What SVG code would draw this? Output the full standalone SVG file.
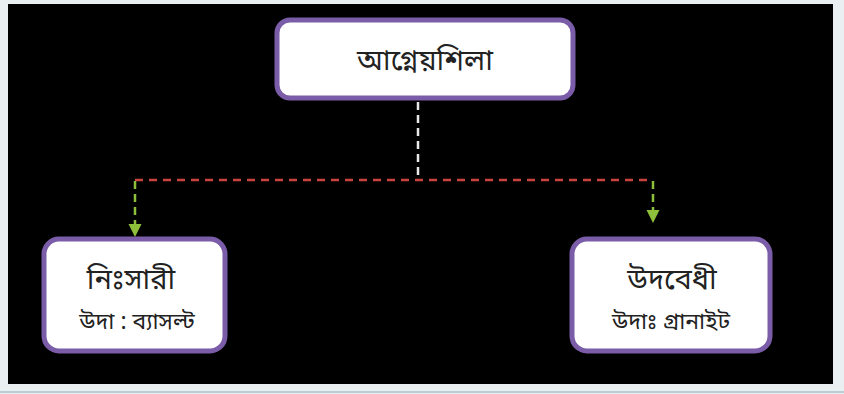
<svg xmlns="http://www.w3.org/2000/svg" width="844" height="394" viewBox="0 0 844 394">
<style>
.box{fill:#ffffff;stroke:#7b5ca8;stroke-width:5}
.t{font-family:"Noto Sans Bengali","Lohit Bengali","Noto Sans","DejaVu Sans",sans-serif;fill:#222;text-anchor:middle}
.big{font-size:29px}
.small{font-size:23px}
</style>
<rect x="0" y="0" width="844" height="394" fill="#eaf0f2"/>
<rect x="8" y="4" width="825" height="380" fill="#000"/>
<line x1="0" y1="392" x2="844" y2="392" stroke="#b9cdd2" stroke-width="2"/>
<g id="connectors">
<line x1="418" y1="102" x2="418" y2="180" stroke="#e8e8e8" stroke-width="2.5" stroke-dasharray="8,5"/>
<line x1="135" y1="180" x2="653" y2="180" stroke="#c9443f" stroke-width="2.5" stroke-dasharray="8,6"/>
<line x1="135" y1="181" x2="135" y2="225" stroke="#8dbf3a" stroke-width="2.5" stroke-dasharray="8,5"/>
<path d="M128.5,224 L141.5,224 L135,237 Z" fill="#8dbf3a"/>
<line x1="653" y1="181" x2="653" y2="211" stroke="#8dbf3a" stroke-width="2.5" stroke-dasharray="8,5"/>
<path d="M646.5,210 L659.5,210 L653,223 Z" fill="#8dbf3a"/>
</g>
<g id="node-root">
<rect class="box" x="277" y="20" width="296" height="78" rx="13"/>
<text class="t big" x="425" y="70">আগ্নেয়শিলা</text>
</g>
<g id="node-left">
<rect class="box" x="44" y="239" width="181" height="112" rx="15"/>
<text class="t big" x="131" y="289">নিঃসারী</text>
<text class="t small" x="137" y="329">উদা : ব্যাসল্ট</text>
</g>
<g id="node-right">
<rect class="box" x="572" y="239" width="198" height="112" rx="15"/>
<text class="t big" x="672" y="289">উদবেধী</text>
<text class="t small" x="671" y="329">উদাঃ গ্রানাইট</text>
</g>
</svg>
